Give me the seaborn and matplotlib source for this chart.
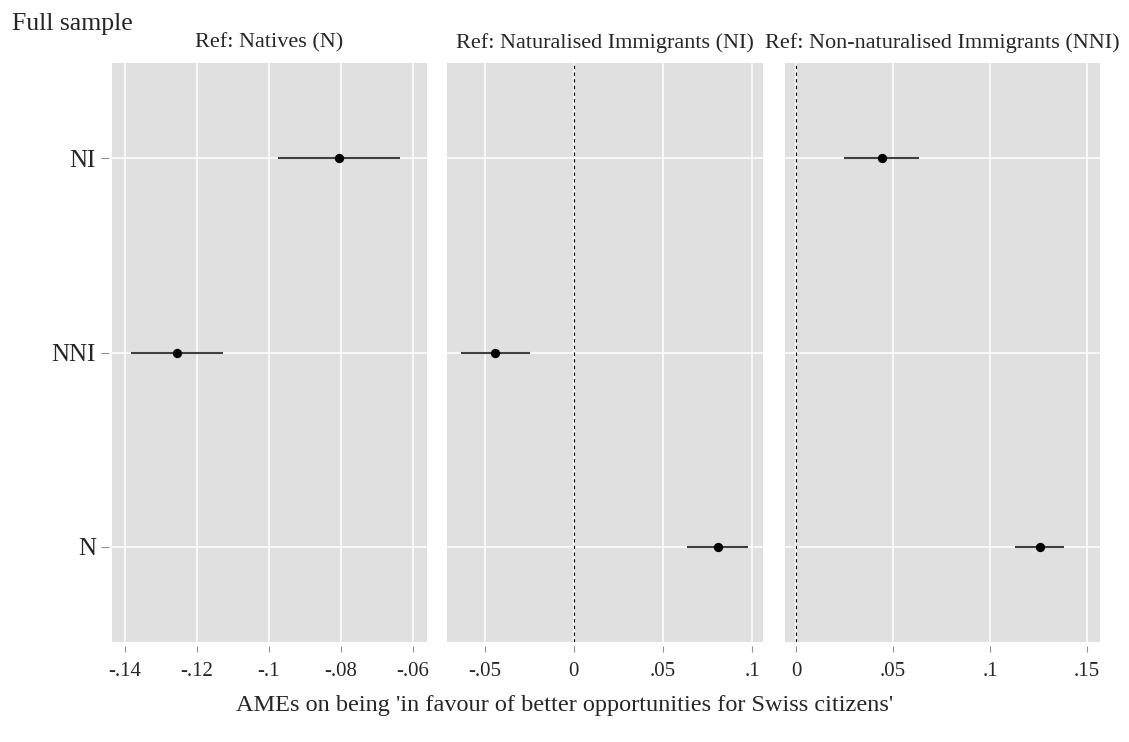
import matplotlib.pyplot as plt
import numpy as np
import pandas as pd
import seaborn as sns

# y-axis categories, top to bottom
categories = ["NI", "NNI", "N"]

# Ref: Natives (N)
n_groups = ["NI", "NNI"]
n_est = [-0.0806, -0.1256]
n_lo = [-0.0975, -0.1383]
n_hi = [-0.0636, -0.1128]

# Ref: Naturalised Immigrants (NI)
ni_groups = ["NNI", "N"]
ni_est = [-0.0444, 0.0808]
ni_lo = [-0.0635, 0.0636]
ni_hi = [-0.0247, 0.0975]

# Ref: Non-naturalised Immigrants (NNI)
nni_groups = ["NI", "N"]
nni_est = [0.0444, 0.1256]
nni_lo = [0.0247, 0.1128]
nni_hi = [0.0635, 0.1383]

titles = ["Ref: Natives (N)", "Ref: Naturalised Immigrants (NI)",
          "Ref: Non-naturalised Immigrants (NNI)"]
x_ticks = [[-0.14, -0.12, -0.1, -0.08, -0.06],
           [-0.05, 0, 0.05, 0.1],
           [0, 0.05, 0.1, 0.15]]
x_ticklabels = [["-.14", "-.12", "-.1", "-.08", "-.06"],
                ["-.05", "0", ".05", ".1"],
                ["0", ".05", ".1", ".15"]]
x_limits = [(-0.1436, -0.0561), (-0.0713, 0.1062), (-0.0057, 0.1567)]

frames = []
for ref, g, e, lo, hi in [("N", n_groups, n_est, n_lo, n_hi),
                          ("NI", ni_groups, ni_est, ni_lo, ni_hi),
                          ("NNI", nni_groups, nni_est, nni_lo, nni_hi)]:
    frames.append(pd.DataFrame({"ref": ref, "group": g, "est": e, "lo": lo, "hi": hi}))
df = pd.concat(frames, ignore_index=True)
df["pos"] = df["group"].map({c: i for i, c in enumerate(categories)})

sns.set_style("darkgrid", {"axes.facecolor": "#e0e0e0", "grid.color": "white"})
plt.rcParams["font.family"] = ["Liberation Serif", "DejaVu Serif"]

fig = plt.figure(figsize=(11.29, 7.42), dpi=100)
W, H = 1129, 742
panels = [(112, 427), (447, 763), (785, 1100)]
top, bottom = 63, 642

for k, ref in enumerate(["N", "NI", "NNI"]):
    x0, x1 = panels[k]
    ax = fig.add_axes([x0 / W, 1 - bottom / H, (x1 - x0) / W, (bottom - top) / H])
    # offset ticks slightly from the plot region (spines stay hidden)
    ax.spines["bottom"].set_position(("outward", 3))
    ax.spines["left"].set_position(("outward", 2))
    sub = df[df["ref"] == ref]
    ax.grid(True, color="white", linewidth=1.1)
    if x_limits[k][0] < 0 < x_limits[k][1]:
        ax.axvline(0, color="black", linewidth=0.8, linestyle=(0, (3, 3)), zorder=1.5)
    ax.hlines(sub["pos"], sub["lo"], sub["hi"], color="#404040", linewidth=1.5, zorder=2)
    sns.scatterplot(data=sub, x="est", y="pos", ax=ax, color="black", s=45,
                    edgecolor="black", linewidth=0, zorder=3, legend=False)
    ax.set_xlim(*x_limits[k])
    ax.set_ylim(2.49, -0.49)
    ax.set_xticks(x_ticks[k])
    ax.set_xticklabels(x_ticklabels[k])
    ax.set_yticks(range(len(categories)))
    if k == 0:
        ax.set_yticklabels(categories)
    else:
        ax.set_yticklabels([])
    ax.tick_params(axis="x", length=4.5, width=0.8, color="#909090", pad=7,
                   bottom=True, labelsize=15)
    ax.tick_params(axis="y", length=5.5 if k == 0 else 0, width=0.8, color="#909090",
                   pad=4, left=(k == 0), labelsize=18)
    ax.set_xlabel("")
    ax.set_ylabel("")
    ax.set_title(titles[k], fontsize=16, pad=11)
    for s in ax.spines.values():
        s.set_visible(False)

fig.text(12 / W, 1 - 24 / H, "Full sample", fontsize=18.5, ha="left", va="center")
fig.text(565 / W, 1 - 706 / H,
         "AMEs on being 'in favour of better opportunities for Swiss citizens'",
         fontsize=17.5, ha="center", va="center")

fig.savefig("out.png", dpi=100)
